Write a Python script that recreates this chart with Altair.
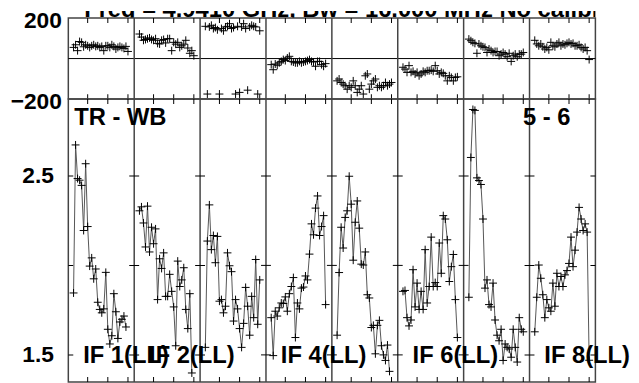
import altair as alt
import pandas as pd

# ---------------- data ----------------
TITLE = "Freq = 4.9410 GHz, Bw = 16.000 MHz   No calibration"
LEFT_LABEL = "TR - WB"
RIGHT_LABEL = "5 - 6"
IF_LABELS = ["IF 1(LL)", "IF 2(LL)", "IF 4(LL)", "IF 6(LL)", "IF 8(LL)"]
IF_LABEL_PANELS = [0, 1, 3, 5, 7]
FIRST_CHANNEL = 3
CHANNEL_TICKS = [10, 20, 30]

amp_if1 = [1.846, 2.673, 2.485, 2.476, 2.447, 2.195, 2.568, 2.217, 1.996, 2.042, 1.925, 1.980, 1.794, 1.754,
           1.735, 1.757, 1.961, 1.643, 1.561, 1.607, 1.842, 1.741, 1.592, 1.684, 1.699, 1.717, 1.656]
amp_if2 = [2.305, 2.327, 2.237, 2.103, 2.331, 2.075, 2.213, 2.121, 2.204, 1.809, 2.037, 1.983, 2.070, 1.827,
           1.827, 1.950, 1.855, 1.768, 1.551, 2.024, 1.882, 1.919, 1.987, 1.754, 1.647, 1.842, 1.399]
amp_if3 = [1.542, 2.136, 2.338, 2.088, 2.167, 2.015, 2.162, 1.800, 1.809, 1.735, 1.772, 2.070, 1.998, 1.965,
           1.689, 1.809, 1.757, 1.647, 1.542, 1.676, 1.877, 1.772, 1.610, 1.827, 1.708, 2.033, 1.671, 1.919]
amp_if4 = [1.708, 1.496, 1.744, 1.717, 1.763, 1.790, 1.787, 1.824, 1.744, 1.842, 1.882, 1.932, 1.597, 1.790,
           1.757, 1.873, 1.879, 1.941, 1.919, 2.063, 2.232, 2.171, 2.320, 2.388, 2.167, 2.217, 2.278, 1.781]
amp_if5 = [1.610, 1.960, 2.213, 2.097, 2.268, 2.305, 2.498, 2.342, 2.029, 2.241, 2.360, 2.208, 2.007, 2.002,
           2.075, 1.836, 1.818, 1.653, 1.665, 1.506, 1.665, 1.693, 1.551, 1.500, 1.469, 1.555, 1.408]
amp_if6 = [1.855, 1.860, 1.708, 1.662, 1.695, 1.976, 1.768, 1.901, 1.754, 1.855, 1.754, 2.088, 1.790, 1.882,
           2.158, 1.882, 1.904, 1.882, 2.125, 1.956, 2.278, 2.259, 2.143, 1.910, 1.993, 2.061, 1.809, 1.597]
amp_if7 = [1.822, 2.603, 2.871, 2.866, 2.489, 2.474, 2.452, 2.259, 1.873, 1.919, 1.781, 1.768, 1.901, 1.695,
           1.610, 1.579, 1.643, 1.469, 1.561, 1.542, 1.533, 1.487, 1.643, 1.542, 1.460, 1.708, 1.643, 1.629]
amp_if8 = [1.629, 1.822, 2.002, 1.928, 1.836, 1.708, 1.809, 1.763, 1.744, 1.901, 1.772, 1.956, 1.882, 1.938,
           1.882, 1.947, 1.971, 2.011, 2.158, 1.993, 2.085, 2.186, 2.324, 2.259, 2.195, 2.232, 2.186, 1.470]

ph_if1 = [55, 68, 39, 84, 80, 58, 68, 63, 55, 63, 68, 60, 63, 55, 60, 39, 63, 63, 55, 68, 60, 47, 55, 60, 55, 50, 60, 35]
ph_if2 = [121, 106, 90, 94, 98, 102, 94, 90, 98, 75, 72, 90, 94, 77, 98, 98, 39, 80, 71, 80, 55, 63, 71, 90, 52, 26, 39, 14]
ph_if3 = [159, -175, 156, 164, 148, 153, 142, -175, 148, 137, 156, 159, 172, 148, 153, -175, 159, -167, 156, 172, 148,
          -156, 156, 164, 159, 156, -175, 137]
ph_if4 = [-30, -55, -27, -33, -21, -14, -5, -10, 3, 11, -14, -17, -21, -21, -14, -21, -17, -14, -10, -5, -14, -17, -38,
          -14, -14, -30, -38, -25]
ph_if5 = [-110, -101, -118, -126, -134, -151, -134, -142, -110, -134, -167, -151, -134, -175, -85, -76, -151, -126,
          -110, -101, -142, -134, -142, -134, -118, -134, -126, -118]
ph_if6 = [-43, -52, -68, -35, -68, -63, -76, -68, -85, -76, -63, -68, -60, -60, -57, -63, -35, -60, -76, -68, -73, -85,
          -110, -85, -93, -110, -93, -90]
ph_if7 = [96, 88, 80, 75, 26, 72, 63, 58, 55, 30, 47, 39, 30, 35, 35, 14, 22, 30, 22, 9, 26, -14, 14, 22, 9, 22, 22, 30]
ph_if8 = [90, 72, 63, 72, 58, 47, 55, 43, 80, 63, 58, 72, 80, 63, 72, 68, 75, 80, 72, 75, 63, 63, 68, 55, 47, 55, 39, -5]

AMPS = [amp_if1, amp_if2, amp_if3, amp_if4, amp_if5, amp_if6, amp_if7, amp_if8]
PHASES = [ph_if1, ph_if2, ph_if3, ph_if4, ph_if5, ph_if6, ph_if7, ph_if8]

# ---------------- tables ----------------
SPAN = 32.7   # channel units per IF panel
X0 = 0.4      # left edge of the first panel in channel units
N_IF = len(AMPS)

amp_rows, ph_rows = [], []
for k in range(N_IF):
    for i, a in enumerate(AMPS[k]):
        ch = FIRST_CHANNEL + i
        amp_rows.append({"ifn": k, "ch": ch, "pos": k * SPAN + ch, "amp": a})
    for i, p in enumerate(PHASES[k]):
        ch = FIRST_CHANNEL + i
        ph_rows.append({"ifn": k, "ch": ch, "pos": k * SPAN + ch, "phase": p})
amp_df = pd.DataFrame(amp_rows)
ph_df = pd.DataFrame(ph_rows)

edges = [X0 + k * SPAN for k in range(N_IF + 1)]
inner_df = pd.DataFrame({"pos": edges[1:-1]})
xt_pos = [k * SPAN + c for k in range(N_IF) for c in CHANNEL_TICKS]

AMP_DOM = [1.349, 2.929]
PH_DOM = [-200, 200]

FONT = "Liberation Sans"
PLUS = "M-1,0L1,0M0,-1L0,1"

xscale = alt.Scale(domain=[edges[0], edges[-1]], nice=False, zero=False)


def X(field="pos"):
    return alt.X(f"{field}:Q", scale=xscale, axis=None)


def panel(ydom, yvals_ticks, axis, ycol, df, with_line):
    ysc = alt.Scale(domain=ydom, nice=False, zero=False)
    seps = alt.Chart(inner_df).mark_rule(color="#444", strokeWidth=1.5).encode(x=X())
    xt_df = pd.DataFrame([{"pos": p, "yv": v} for p in xt_pos for v in ydom])
    xticks = alt.Chart(xt_df).mark_tick(orient="vertical", size=10, thickness=1, color="black",
                                        opacity=1, clip=True).encode(
        x=X(), y=alt.Y("yv:Q", scale=ysc, axis=axis))
    layers = [seps, xticks]
    if yvals_ticks:
        yt_df = pd.DataFrame([{"pos": e, "yv": v} for e in edges for v in yvals_ticks])
        layers.append(alt.Chart(yt_df).mark_tick(orient="horizontal", size=10, thickness=1, color="black",
                                                 opacity=1, clip=True).encode(
            x=X(), y=alt.Y("yv:Q", scale=ysc, axis=axis)))
    if with_line:
        layers.append(alt.Chart(df).mark_line(color="#555", strokeWidth=1, clip=True).encode(
            x=X(), y=alt.Y(f"{ycol}:Q", scale=ysc, axis=axis), detail="ifn:N", order="ch:Q"))
    layers.append(alt.Chart(df).mark_point(shape=PLUS, size=64, filled=False, color="black", strokeWidth=1,
                                           opacity=1, clip=True).encode(
        x=X(), y=alt.Y(f"{ycol}:Q", scale=ysc, axis=axis)))
    return layers, ysc


AX = dict(title=None, ticks=False, domain=False, grid=False, labelFont="Liberation Sans",
          labelFontWeight="bold", labelFontSize=23, labelColor="black")

# phase panel
ph_axis = alt.Axis(values=[200, -200], format="d", labelPadding=7, labelOffset=3, **AX)
ph_layers, ph_sc = panel(PH_DOM, None, ph_axis, "phase", ph_df, False)
zero = alt.Chart(pd.DataFrame({"yv": [0]})).mark_rule(color="black", strokeWidth=1).encode(
    y=alt.Y("yv:Q", scale=ph_sc, axis=ph_axis))
phase_chart = alt.layer(*([zero] + ph_layers)).properties(width=533, height=82)

# amplitude panel
amp_axis = alt.Axis(values=[2.5, 1.5], format=".1f", labelPadding=15, **AX)
amp_layers, amp_sc = panel(AMP_DOM, [1.5, 2.0, 2.5], amp_axis, "amp", amp_df, True)

txt = dict(font=FONT, fontSize=24, fontWeight="bold", color="black", align="left", baseline="alphabetic")
corner_df = pd.DataFrame({"pos": [edges[0], edges[6]], "t": [LEFT_LABEL, RIGHT_LABEL]})
corner_l = alt.Chart(corner_df.iloc[[0]]).mark_text(dx=6, **txt).encode(x=X(), y=alt.value(26), text="t:N")
corner_r = alt.Chart(corner_df.iloc[[1]]).mark_text(dx=60, **txt).encode(x=X(), y=alt.value(26), text="t:N")
iflab_df = pd.DataFrame({"pos": [edges[k] for k in IF_LABEL_PANELS], "t": IF_LABELS, "yv": [1.5] * len(IF_LABELS)})
iflabs = alt.Chart(iflab_df).mark_text(dx=15, dy=8, **txt).encode(
    x=X(), y=alt.Y("yv:Q", scale=amp_sc, axis=amp_axis), text="t:N")
amp_chart = alt.layer(*(amp_layers + [corner_l, corner_r, iflabs])).properties(width=533, height=286)

# title strip (only the lower part of the title is visible, as in the picture)
title_chart = alt.Chart(pd.DataFrame({"t": [TITLE]})).mark_text(clip=True, **txt).encode(
    x=alt.value(16), y=alt.value(6), text="t:N"
).properties(width=533, height=7, view=alt.ViewBackground(stroke="transparent"))

chart = alt.vconcat(title_chart, phase_chart, amp_chart, spacing=0, bounds="flush").properties(
    padding={"left": 1, "top": -1, "right": 0, "bottom": 0}, background="white"
).configure_view(stroke="#444", strokeWidth=1.5)

chart.save("out.html", embed_options={"renderer": "svg", "actions": False})
